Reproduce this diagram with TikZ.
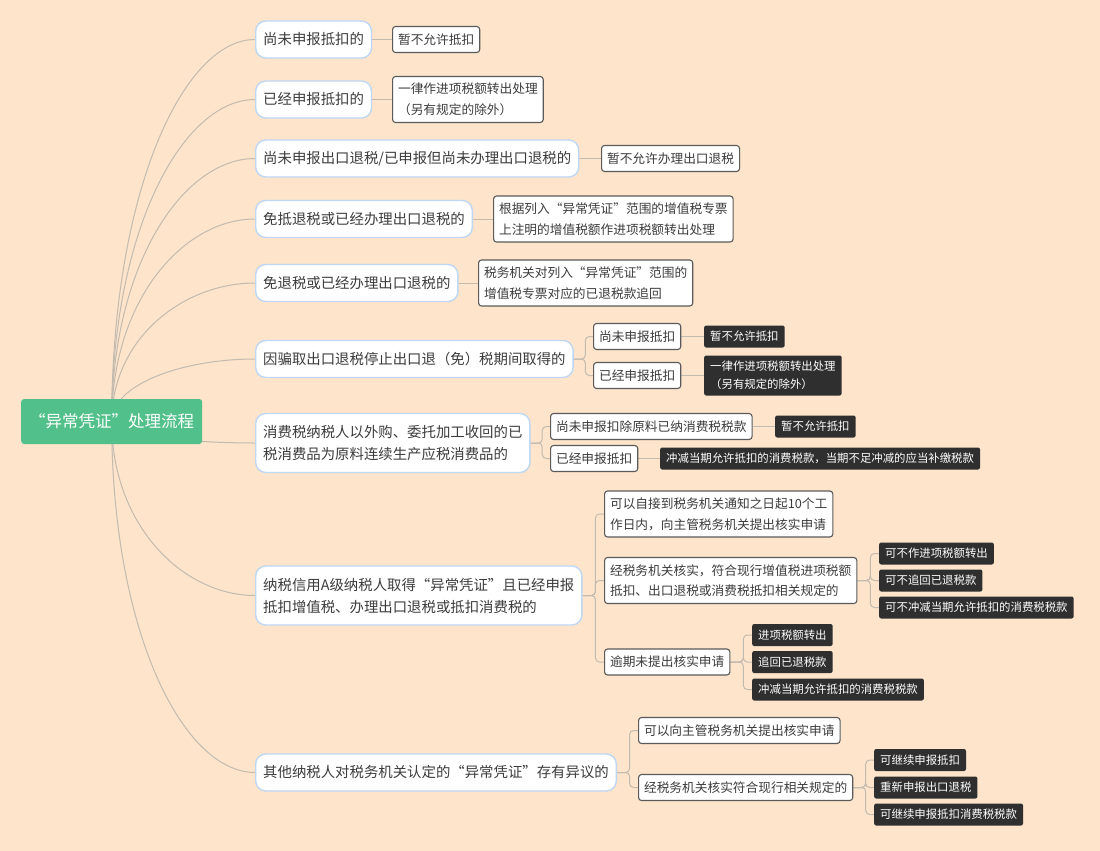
\documentclass[tikz,border=0pt]{standalone}
\usepackage{fontspec}
\setmainfont{Noto Sans CJK SC}
\usetikzlibrary{calc,backgrounds}
\definecolor{bgc}{RGB}{253,228,202}
\definecolor{rootg}{RGB}{82,192,138}
\definecolor{topicb}{RGB}{190,215,245}
\definecolor{txt}{RGB}{60,60,60}
\definecolor{detb}{RGB}{90,90,90}
\definecolor{darkf}{RGB}{47,47,47}
\definecolor{connc}{RGB}{195,186,176}
\newcommand\linkel[2]{\draw[conn,rounded corners=4pt] (#1.east) -- ($(#1.east)!0.6!(#1.east -| #2.west)$) |- (#2.west);}
\begin{document}
\begin{tikzpicture}[x=1pt,y=-1pt,
  rootbox/.style={fill=rootg, text=white, rounded corners=3pt, font=\fontsize{16.5}{20}\selectfont, inner xsep=8pt, inner ysep=2pt, minimum height=45pt, anchor=west},
  topic/.style={fill=white, draw=topicb, line width=1.4pt, rounded corners=10pt, text=txt, font=\fontsize{14.4}{22}\selectfont, inner xsep=7.5pt, inner ysep=2pt, minimum height=37pt, align=left, anchor=west},
  topictwo/.style={topic, minimum height=59pt},
  detail/.style={fill=white, draw=detb, line width=1.1pt, rounded corners=3pt, text=txt, font=\fontsize{12.7}{20.7}\selectfont, inner xsep=5.5pt, inner ysep=2pt, minimum height=26pt, align=left, anchor=west},
  detailtwo/.style={detail, minimum height=46pt},
  dark/.style={fill=darkf, text=white, rounded corners=2pt, font=\fontsize{11.4}{18}\selectfont, inner xsep=6pt, inner ysep=2pt, minimum height=22pt, align=left, anchor=west},
  darktwo/.style={dark, minimum height=40pt},
  conn/.style={draw=connc, line width=1pt},
  curvy/.style={to path={.. controls ($(\tikztostart)!0.6!(\tikztostart |- \tikztotarget)$) and ($(\tikztostart |- \tikztotarget)!0.5!(\tikztotarget)$) .. (\tikztotarget)}}
]
\useasboundingbox (0,0) rectangle (1100,851);

\node[rootbox] (root) at (21,421.5) {“异常凭证”处理流程};

\node[topic] (t1) at (255,39.5) {尚未申报抵扣的};
\node[topic] (t2) at (255,99.5) {已经申报抵扣的};
\node[topic] (t3) at (255,158.5) {尚未申报出口退税/已申报但尚未办理出口退税的};
\node[topic] (t4) at (255,219) {免抵退税或已经办理出口退税的};
\node[topic] (t5) at (255,283) {免退税或已经办理出口退税的};
\node[topic] (t6) at (255,359) {因骗取出口退税停止出口退（免）税期间取得的};
\node[topictwo] (t7) at (255,443) {消费税纳税人以外购、委托加工收回的已\\税消费品为原料连续生产应税消费品的};
\node[topictwo] (t8) at (255,595.5) {纳税信用A级纳税人取得“异常凭证”且已经申报\\抵扣增值税、办理出口退税或抵扣消费税的};
\node[topic] (t9) at (255,772.5) {其他纳税人对税务机关认定的“异常凭证”存有异议的};

\node[detail] (d1) at (392,39.5) {暂不允许抵扣};
\node[detailtwo] (d2) at (392,99.5) {一律作进项税额转出处理\\（另有规定的除外）};
\node[detail] (d3) at (601,158.5) {暂不允许办理出口退税};
\node[detailtwo] (d4) at (493,219) {根据列入“异常凭证”范围的增值税专票\\上注明的增值税额作进项税额转出处理};
\node[detailtwo] (d5) at (478,283) {税务机关对列入“异常凭证”范围的\\增值税专票对应的已退税款追回};

\node[detail] (d6a) at (593,336.5) {尚未申报抵扣};
\node[detail] (d6b) at (593,375.5) {已经申报抵扣};
\node[dark] (k6a) at (704,336.5) {暂不允许抵扣};
\node[darktwo] (k6b) at (704,375.5) {一律作进项税额转出处理\\（另有规定的除外）};

\node[detail] (d7a) at (550,426.5) {尚未申报扣除原料已纳消费税税款};
\node[detail] (d7b) at (550,458.5) {已经申报抵扣};
\node[dark] (k7a) at (775,426.5) {暂不允许抵扣};
\node[dark] (k7b) at (660,458.5) {冲减当期允许抵扣的消费税款，当期不足冲减的应当补缴税款};

\node[detailtwo] (d8a) at (604,514) {可以自接到税务机关通知之日起10个工\\作日内，向主管税务机关提出核实申请};
\node[detailtwo] (d8b) at (604,580.5) {经税务机关核实，符合现行增值税进项税额\\抵扣、出口退税或消费税抵扣相关规定的};
\node[detail] (d8c) at (604,662) {逾期未提出核实申请};
\node[dark] (k8a) at (879,553.5) {可不作进项税额转出};
\node[dark] (k8b) at (879,580.5) {可不追回已退税款};
\node[dark] (k8c) at (879,607.5) {可不冲减当期允许抵扣的消费税税款};
\node[dark] (k8d) at (752,635) {进项税额转出};
\node[dark] (k8e) at (752,662) {追回已退税款};
\node[dark] (k8f) at (752,689.5) {冲减当期允许抵扣的消费税税款};

\node[detail] (d9a) at (638,730.5) {可以向主管税务机关提出核实申请};
\node[detail] (d9b) at (638,787.5) {经税务机关核实符合现行相关规定的};
\node[dark] (k9a) at (874,760) {可继续申报抵扣};
\node[dark] (k9b) at (874,787.5) {重新申报出口退税};
\node[dark] (k9c) at (874,814.5) {可继续申报抵扣消费税税款};

\begin{scope}[on background layer]
  \fill[bgc] (0,0) rectangle (1100,851);
  \foreach \t in {t1,t2,t3,t4,t5,t6,t7,t8,t9}
    \draw[conn] (root.center) to[curvy] (\t.west);
  \draw[conn] (t1.east) -- (d1.west);
  \draw[conn] (t2.east) -- (d2.west);
  \draw[conn] (t3.east) -- (d3.west);
  \draw[conn] (t4.east) -- (d4.west);
  \draw[conn] (t5.east) -- (d5.west);
  \draw[conn] (d6a.east) -- (k6a.west);
  \draw[conn] (d6b.east) -- (k6b.west);
  \draw[conn] (d7a.east) -- (k7a.west);
  \draw[conn] (d7b.east) -- (k7b.west);
  \linkel{t6}{d6a} \linkel{t6}{d6b}
  \linkel{t7}{d7a} \linkel{t7}{d7b}
  \linkel{t8}{d8a} \linkel{t8}{d8b} \linkel{t8}{d8c}
  \linkel{d8b}{k8a} \linkel{d8b}{k8b} \linkel{d8b}{k8c}
  \linkel{d8c}{k8d} \linkel{d8c}{k8e} \linkel{d8c}{k8f}
  \linkel{t9}{d9a} \linkel{t9}{d9b}
  \linkel{d9b}{k9a} \linkel{d9b}{k9b} \linkel{d9b}{k9c}
\end{scope}
\end{tikzpicture}
\end{document}
